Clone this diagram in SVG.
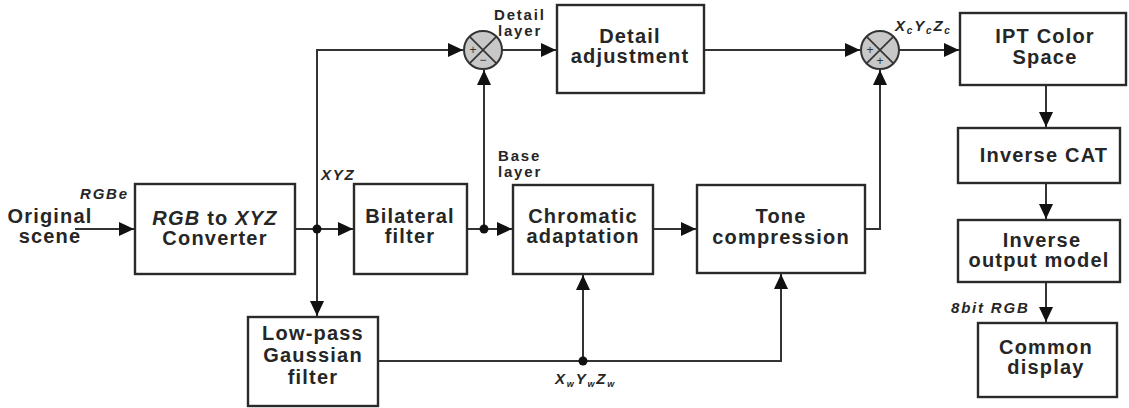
<svg xmlns="http://www.w3.org/2000/svg" width="1129" height="408" viewBox="0 0 1129 408">
  <style>
    .box { fill: #ffffff; stroke: #2a2a2a; stroke-width: 2.4; }
    .lbl { font-family: "Liberation Sans", Arial, sans-serif; font-weight: bold; font-size: 20px; letter-spacing: 1.2px; fill: #262626; text-anchor: middle; }
    .sm { font-family: "Liberation Sans", Arial, sans-serif; font-weight: bold; font-size: 15px; letter-spacing: 1.8px; fill: #262626; }
    .it { font-style: italic; }
    .wire { fill: none; stroke: #333333; stroke-width: 2; }
    .arr { fill: none; stroke: #333333; stroke-width: 2; marker-end: url(#head); }
    .dot { fill: #111111; }
    .sum { fill: #c8c8c8; stroke: #333333; stroke-width: 2; }
    .cross { stroke: #333333; stroke-width: 1.6; }
    .sign { font-family: "Liberation Sans", Arial, sans-serif; font-size: 12px; fill: #333333; text-anchor: middle; }
  </style>
  <defs>
    <marker id="head" markerUnits="userSpaceOnUse" markerWidth="16" markerHeight="14" refX="15" refY="7" orient="auto">
      <path d="M0,0 L15,7 L0,14 Z" fill="#111111"/>
    </marker>
  </defs>

  <!-- connectors -->
  <g id="connectors">
    <path class="arr" d="M75,229 H134"/>
    <path class="arr" d="M295,229 H353"/>
    <path class="arr" d="M317,229 V50 H463"/>
    <path class="arr" d="M317,229 V316"/>
    <path class="arr" d="M467,229 H512"/>
    <path class="arr" d="M484,229 V70"/>
    <path class="arr" d="M502,50 H556"/>
    <path class="arr" d="M704,50 H860"/>
    <path class="arr" d="M899,50 H959"/>
    <path class="arr" d="M653,229 H696"/>
    <path class="arr" d="M865,229 H880 V70"/>
    <path class="arr" d="M378,361 H781 V274"/>
    <path class="arr" d="M583,361 V275"/>
    <path class="arr" d="M1046,85 V127"/>
    <path class="arr" d="M1046,183 V219"/>
    <path class="arr" d="M1046,282 V322"/>
    <circle class="dot" cx="317" cy="229" r="4.5"/>
    <circle class="dot" cx="484" cy="229" r="4.5"/>
    <circle class="dot" cx="583" cy="361" r="4.5"/>
  </g>

  <!-- summing junctions -->
  <g id="sum1">
    <circle class="sum" cx="483" cy="50" r="19"/>
    <line class="cross" x1="469.6" y1="36.6" x2="496.4" y2="63.4"/>
    <line class="cross" x1="496.4" y1="36.6" x2="469.6" y2="63.4"/>
    <text class="sign" x="473" y="54">+</text>
    <text class="sign" x="483" y="64">−</text>
  </g>
  <g id="sum2">
    <circle class="sum" cx="880" cy="50" r="19"/>
    <line class="cross" x1="866.6" y1="36.6" x2="893.4" y2="63.4"/>
    <line class="cross" x1="893.4" y1="36.6" x2="866.6" y2="63.4"/>
    <text class="sign" x="870" y="54">+</text>
    <text class="sign" x="880" y="65">+</text>
  </g>

  <!-- free labels -->
  <g id="labels">
    <text class="lbl" x="50" y="223">Original</text>
    <text class="lbl" x="50" y="243">scene</text>
    <text class="sm it" x="80" y="199">RGBe</text>
    <text class="sm it" x="321" y="180">XYZ</text>
    <text class="sm" x="494" y="20">Detail</text>
    <text class="sm" x="498" y="36">layer</text>
    <text class="sm" x="498" y="161">Base</text>
    <text class="sm" x="498" y="177">layer</text>
    <text class="sm it" x="895" y="31" letter-spacing="0.5">X<tspan font-size="10" dy="3">c</tspan><tspan dy="-3">Y</tspan><tspan font-size="10" dy="3">c</tspan><tspan dy="-3">Z</tspan><tspan font-size="10" dy="3">c</tspan></text>
    <text class="sm it" x="555" y="384" letter-spacing="0">X<tspan font-size="9" dy="3">w</tspan><tspan dy="-3">Y</tspan><tspan font-size="9" dy="3">w</tspan><tspan dy="-3">Z</tspan><tspan font-size="9" dy="3">w</tspan></text>
    <text class="sm it" x="951" y="313" letter-spacing="1.2">8bit RGB</text>
  </g>

  <!-- blocks -->
  <g id="converter">
    <rect class="box" x="135" y="184" width="160" height="90"/>
    <text class="lbl" x="215" y="225"><tspan class="it">RGB</tspan> to <tspan class="it">XYZ</tspan></text>
    <text class="lbl" x="215" y="245">Converter</text>
  </g>
  <g id="bilateral">
    <rect class="box" x="354" y="184" width="113" height="90"/>
    <text class="lbl" x="410" y="223">Bilateral</text>
    <text class="lbl" x="410" y="243">filter</text>
  </g>
  <g id="chromatic">
    <rect class="box" x="513" y="185" width="140" height="89"/>
    <text class="lbl" x="583" y="223">Chromatic</text>
    <text class="lbl" x="583" y="243">adaptation</text>
  </g>
  <g id="tone">
    <rect class="box" x="697" y="185" width="168" height="88"/>
    <text class="lbl" x="781" y="223">Tone</text>
    <text class="lbl" x="781" y="244">compression</text>
  </g>
  <g id="detail">
    <rect class="box" x="557" y="5" width="147" height="88"/>
    <text class="lbl" x="630" y="43">Detail</text>
    <text class="lbl" x="630" y="63">adjustment</text>
  </g>
  <g id="ipt">
    <rect class="box" x="960" y="13" width="166" height="72"/>
    <text class="lbl" x="1045" y="43">IPT Color</text>
    <text class="lbl" x="1045" y="64">Space</text>
  </g>
  <g id="inverse-cat">
    <rect class="box" x="958" y="128" width="162" height="55"/>
    <text class="lbl" x="1044" y="162">Inverse CAT</text>
  </g>
  <g id="inverse-output">
    <rect class="box" x="958" y="220" width="162" height="62"/>
    <text class="lbl" x="1042" y="247">Inverse</text>
    <text class="lbl" x="1039" y="267">output model</text>
  </g>
  <g id="display">
    <rect class="box" x="978" y="323" width="139" height="74"/>
    <text class="lbl" x="1046" y="354">Common</text>
    <text class="lbl" x="1046" y="374">display</text>
  </g>
  <g id="lowpass">
    <rect class="box" x="248" y="317" width="130" height="89"/>
    <text class="lbl" x="313" y="340">Low-pass</text>
    <text class="lbl" x="313" y="362">Gaussian</text>
    <text class="lbl" x="313" y="384">filter</text>
  </g>
</svg>
